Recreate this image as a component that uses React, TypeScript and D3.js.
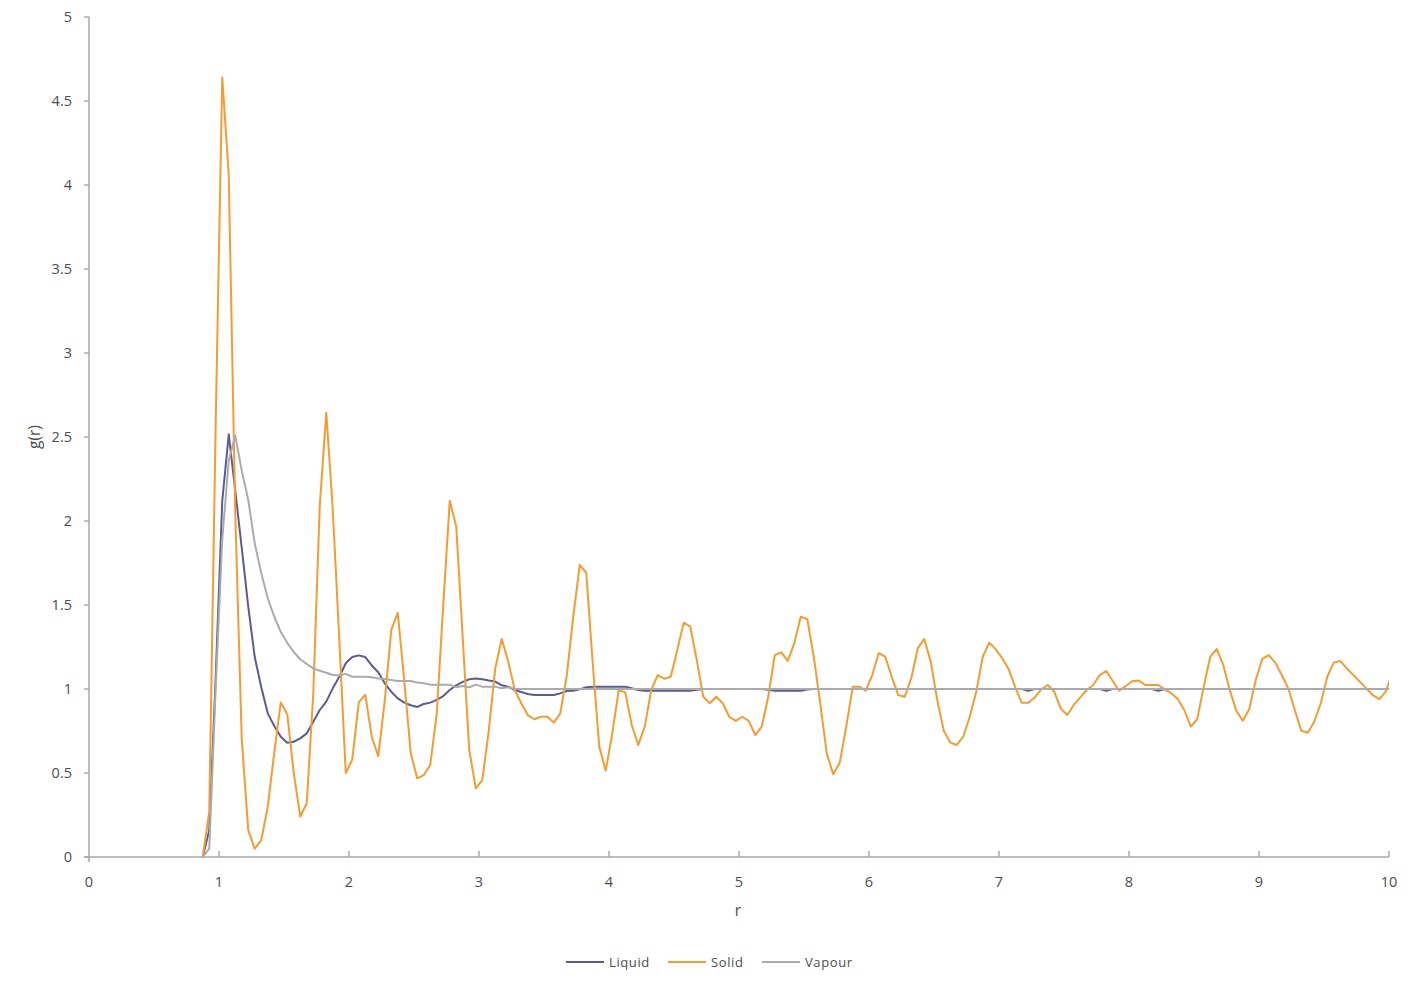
import React, { useEffect, useRef } from 'react';
import * as d3 from 'd3';

// bin centres of the radial distribution histogram (0.05 wide bins)
const R_START = 0.875;
const R_STEP = 0.05;

// g(r) values, one row = 10 bins (row i starts at 0.875 + 0.5 * i)
const solid: number[] = [
  0, 0.27, 2.6, 4.64, 4.06, 2.05, 0.7, 0.16, 0.05, 0.1,
  0.3, 0.62, 0.92, 0.85, 0.5, 0.24, 0.32, 0.97, 2.09, 2.645,
  2.07, 1.3, 0.5, 0.58, 0.92, 0.966, 0.716, 0.6, 0.93, 1.351,
  1.454, 1.05, 0.617, 0.468, 0.488, 0.548, 0.855, 1.5, 2.12, 1.966,
  1.3, 0.637, 0.409, 0.458, 0.75, 1.123, 1.298, 1.163, 0.994, 0.915,
  0.845, 0.82, 0.835, 0.835, 0.8, 0.855, 1.08, 1.43, 1.738, 1.692,
  1.15, 0.657, 0.514, 0.736, 0.994, 0.98, 0.786, 0.667, 0.776, 0.994,
  1.083, 1.061, 1.073, 1.232, 1.395, 1.371, 1.173, 0.954, 0.915, 0.954,
  0.915, 0.835, 0.81, 0.835, 0.81, 0.726, 0.776, 0.954, 1.202, 1.218,
  1.167, 1.272, 1.43, 1.417, 1.192, 0.915, 0.617, 0.492, 0.561, 0.776,
  1.014, 1.014, 0.99, 1.083, 1.214, 1.192, 1.073, 0.964, 0.954, 1.063,
  1.242, 1.298, 1.163, 0.934, 0.752, 0.681, 0.667, 0.716, 0.835, 0.984,
  1.192, 1.276, 1.236, 1.183, 1.117, 1.01, 0.918, 0.918, 0.95, 0.998,
  1.024, 0.984, 0.883, 0.845, 0.905, 0.95, 0.994, 1.024, 1.083, 1.107,
  1.048, 0.99, 1.018, 1.046, 1.05, 1.024, 1.024, 1.024, 0.998, 0.974,
  0.94, 0.875, 0.776, 0.821, 1.014, 1.192, 1.238, 1.143, 0.994, 0.871,
  0.811, 0.879, 1.054, 1.179, 1.202, 1.157, 1.083, 1.004, 0.875, 0.752,
  0.74, 0.805, 0.915, 1.073, 1.157, 1.167, 1.123, 1.083, 1.044, 1.004,
  0.964, 0.94, 0.984, 1.09,
];

const liquid: number[] = [
  0, 0.16, 1.08, 2.12, 2.516, 2.18, 1.84, 1.49, 1.19, 1.01,
  0.855, 0.78, 0.716, 0.68, 0.686, 0.706, 0.736, 0.805, 0.875, 0.925,
  1.004, 1.073, 1.153, 1.19, 1.2, 1.19, 1.14, 1.1, 1.034, 0.984,
  0.944, 0.919, 0.903, 0.893, 0.911, 0.919, 0.935, 0.958, 0.994, 1.022,
  1.042, 1.058, 1.062, 1.058, 1.05, 1.044, 1.022, 1.014, 0.994, 0.982,
  0.97, 0.964, 0.964, 0.964, 0.964, 0.974, 0.988, 0.99, 0.998, 1.01,
  1.014, 1.014, 1.014, 1.014, 1.014, 1.014, 1.004, 0.994, 0.99, 0.99,
  0.99, 0.99, 0.99, 0.99, 0.99, 0.99, 0.996, 1, 1, 1,
  1, 1, 1, 1, 1, 1, 1, 0.995, 0.99, 0.99,
  0.99, 0.99, 0.99, 0.997, 1, 1, 1, 1, 1, 1,
  1, 1, 1, 1, 1, 1, 1, 1, 1, 1,
  1, 1, 1, 1, 1, 1, 1, 1, 1, 1,
  1, 1, 1, 1, 1, 1, 1, 0.99, 1, 1,
  1, 1, 1, 1, 1, 1, 1, 1, 1, 0.99,
  1, 1, 1, 1, 1, 1, 1, 0.99, 1, 1,
  1, 1, 1, 1, 1, 1, 1, 1, 1, 1,
  1, 1, 1, 1, 1, 1, 1, 1, 1, 1,
  1, 1, 1, 1, 1, 1, 1, 1, 1, 1,
  1, 1, 1, 1,
];

const vapour: number[] = [
  0, 0.05, 1.01, 1.89, 2.36, 2.51, 2.3, 2.125, 1.867, 1.69,
  1.54, 1.43, 1.34, 1.275, 1.22, 1.177, 1.149, 1.123, 1.109, 1.097,
  1.083, 1.08, 1.09, 1.073, 1.073, 1.073, 1.07, 1.063, 1.06, 1.054,
  1.048, 1.048, 1.048, 1.038, 1.034, 1.026, 1.026, 1.026, 1.026, 1.01,
  1.018, 1.01, 1.026, 1.014, 1.014, 1.014, 1.004, 1.01, 1, 1,
  1, 1, 1, 1, 1, 1, 1, 1, 1, 1,
  1, 1, 1, 1, 1, 1, 1, 1, 1, 1,
  1, 1, 1, 1, 1, 1, 1, 1, 1, 1,
  1, 1, 1, 1, 1, 1, 1, 1, 1, 1,
  1, 1, 1, 1, 1, 1, 1, 1, 1, 1,
  1, 1, 1, 1, 1, 1, 1, 1, 1, 1,
  1, 1, 1, 1, 1, 1, 1, 1, 1, 1,
  1, 1, 1, 1, 1, 1, 1, 1, 1, 1,
  1, 1, 1, 1, 1, 1, 1, 1, 1, 1,
  1, 1, 1, 1, 1, 1, 1, 1, 1, 1,
  1, 1, 1, 1, 1, 1, 1, 1, 1, 1,
  1, 1, 1, 1, 1, 1, 1, 1, 1, 1,
  1, 1, 1, 1, 1, 1, 1, 1, 1, 1,
  1, 1, 1, 1,
];

const seriesNames = ['Liquid', 'Solid', 'Vapour'];
const seriesColors = ['#5b5c95', '#f59c30', '#ababab'];
const xTicks = [0, 1, 2, 3, 4, 5, 6, 7, 8, 9, 10];
const yTicks = [0, 0.5, 1, 1.5, 2, 2.5, 3, 3.5, 4, 4.5, 5];

const FONT = '"Open Sans", "Noto Sans", sans-serif';
const AXIS_COLOR = '#a9a9a9';
const TEXT_COLOR = '#4d4d4d';

const App: React.FC = () => {
  const svgRef = useRef<SVGSVGElement>(null);

  useEffect(() => {
    if (!svgRef.current) return;
    const svg = d3.select(svgRef.current);
    svg.selectAll('*').remove();

    const width = 1420;
    const height = 986;
    const plot = { left: 89, right: 1389, top: 17, bottom: 857 };

    svg.attr('width', width).attr('height', height);

    const x = d3.scaleLinear().domain([0, 10]).range([plot.left, plot.right]);
    const y = d3.scaleLinear().domain([0, 5]).range([plot.bottom, plot.top]);

    const rValues = solid.map((_, i) => +(R_START + R_STEP * i).toFixed(3));

    svg.append('defs')
      .append('clipPath')
      .attr('id', 'plot-clip')
      .append('rect')
      .attr('x', plot.left)
      .attr('y', plot.top - 5)
      .attr('width', plot.right - plot.left)
      .attr('height', plot.bottom - plot.top + 10);

    // axes
    const axisG = svg.append('g');
    axisG.append('line')
      .attr('x1', plot.left).attr('x2', plot.left)
      .attr('y1', plot.top).attr('y2', plot.bottom + 5)
      .attr('stroke', AXIS_COLOR).attr('stroke-width', 1.5);
    axisG.append('line')
      .attr('x1', plot.left - 5).attr('x2', plot.right)
      .attr('y1', plot.bottom).attr('y2', plot.bottom)
      .attr('stroke', AXIS_COLOR).attr('stroke-width', 1.5);

    yTicks.forEach(t => {
      axisG.append('line')
        .attr('x1', plot.left - 5).attr('x2', plot.left)
        .attr('y1', y(t)).attr('y2', y(t))
        .attr('stroke', AXIS_COLOR).attr('stroke-width', 1.5);
      axisG.append('text')
        .attr('x', plot.left - 17)
        .attr('y', y(t))
        .attr('dy', '0.35em')
        .attr('text-anchor', 'end')
        .style('font-family', FONT)
        .style('font-size', '14.5px')
        .style('fill', TEXT_COLOR)
        .text(String(t));
    });

    xTicks.forEach(t => {
      if (t > 0) {
        axisG.append('line')
          .attr('x1', x(t)).attr('x2', x(t))
          .attr('y1', plot.bottom - 6).attr('y2', plot.bottom)
          .attr('stroke', AXIS_COLOR).attr('stroke-width', 1.5);
      }
      axisG.append('text')
        .attr('x', x(t))
        .attr('y', 882)
        .attr('dy', '0.35em')
        .attr('text-anchor', 'middle')
        .style('font-family', FONT)
        .style('font-size', '14.5px')
        .style('fill', TEXT_COLOR)
        .text(String(t));
    });

    // axis titles
    svg.append('text')
      .attr('x', x(5) - 1)
      .attr('y', 911)
      .attr('dy', '0.35em')
      .attr('text-anchor', 'middle')
      .style('font-family', FONT)
      .style('font-size', '15.5px')
      .style('fill', TEXT_COLOR)
      .text('r');

    svg.append('text')
      .attr('transform', `translate(35, ${y(2.5)}) rotate(-90)`)
      .attr('dy', '0.35em')
      .attr('text-anchor', 'middle')
      .style('font-family', FONT)
      .style('font-size', '15.5px')
      .style('fill', TEXT_COLOR)
      .text('g(r)');

    // series
    const line = d3.line<number>()
      .x((_, i) => x(rValues[i]))
      .y(d => y(d));

    const seriesData = [liquid, solid, vapour];
    const linesG = svg.append('g').attr('clip-path', 'url(#plot-clip)');
    seriesData.forEach((data, i) => {
      linesG.append('path')
        .datum(data)
        .attr('fill', 'none')
        .attr('stroke', seriesColors[i])
        .attr('stroke-width', 2)
        .attr('stroke-linejoin', 'round')
        .attr('d', line);
    });

    // legend
    const legendX = [566, 668, 762];
    const legend = svg.append('g');
    seriesNames.forEach((name, i) => {
      legend.append('line')
        .attr('x1', legendX[i]).attr('x2', legendX[i] + 38)
        .attr('y1', 962).attr('y2', 962)
        .attr('stroke', seriesColors[i])
        .attr('stroke-width', 2);
      legend.append('text')
        .attr('x', legendX[i] + 43)
        .attr('y', 962)
        .attr('dy', '0.35em')
        .style('font-family', FONT)
        .style('font-size', '13px')
        .style('letter-spacing', '0.6px')
        .style('fill', TEXT_COLOR)
        .text(name);
    });
  }, []);

  return (
    <div style={{ position: 'absolute', left: 0, top: 0, background: '#fff' }}>
      <svg ref={svgRef}></svg>
    </div>
  );
};

export default App;
